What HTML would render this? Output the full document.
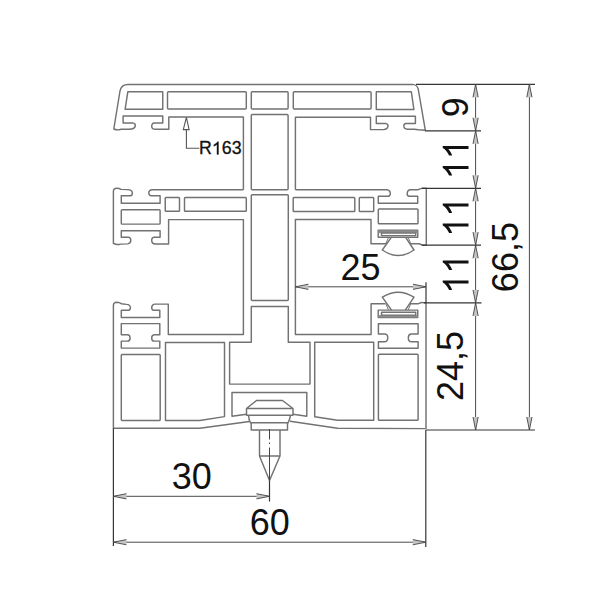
<!DOCTYPE html>
<html><head><meta charset="utf-8">
<style>
html,body{margin:0;padding:0;background:#fff;width:600px;height:600px;overflow:hidden}
svg{display:block}
.p{fill:none;stroke:#727272;stroke-width:1.45;stroke-linejoin:round}
.d{fill:none;stroke:#3c3c3c;stroke-width:1}
.t{font-family:"Liberation Sans",sans-serif;fill:#111}
</style></head>
<body>
<svg width="600" height="600" viewBox="0 0 600 600">
<g>
<g class="p">
<!-- TOP MEMBER outer -->
<path d="M243.4 189.7 L243.4 117 L168.8 117 L168.8 129.3 L155.2 129.3 Q151.6 129.1 151.7 126 Q151.9 122.9 154.2 122.9 L162.75 122.9 L162.75 115.9 L123.1 115.9 L123.1 122.9 L132.8 122.9 Q135.4 123.3 135.3 125.6 Q135 129.3 129 129.3 L121 129.3 Q117.5 130.6 113.8 129 L120 91 Q121.2 84.4 128 84.4 L412.5 84.4 Q417 84.6 418.2 89 L425.3 130.2 L418.5 129.7 Q416 129 413 129.2 L407.4 129.2 Q403.7 128.8 403.8 125.8 Q404 123.4 406 123.4 L415.4 123.4 L415.4 116.2 L376.3 116.2 L376.3 123.4 L385.5 123.4 Q388.3 124 388 126.2 Q387.5 129.6 383.5 129.6 L370.5 129.6 L370.5 117.2 L295.4 117.2 L295.4 189.7"/>
<!-- top inner rects -->
<path d="M127.8 91.8 L162.75 91.8 L162.75 109.3 L125.1 109.3 Z"/>
<rect x="167.5" y="91.8" width="78.8" height="17.2" rx="1"/>
<rect x="251.3" y="91.8" width="36.8" height="17.2" rx="1"/>
<rect x="293.3" y="91.8" width="77.8" height="17.2" rx="1"/>
<path d="M376.3 91.7 L411.3 91.7 L413.9 109.5 L376.3 109.5 Z"/>
<!-- mullion cavities -->
<rect x="251.3" y="114.4" width="36.8" height="75.35" rx="1"/>
<rect x="251.3" y="194.8" width="37" height="105.7" rx="1"/>
<path d="M251.3 306.4 L288.3 306.4 L288.3 342.3 L310 342.3 L310 384.1 L229.6 384.1 L229.6 342.3 L251.3 342.3 Z"/>
<!-- middle bars -->
<rect x="165.25" y="197.5" width="14.25" height="13.8" rx="0.8"/>
<rect x="184.5" y="197.5" width="61.8" height="13.8" rx="0.8"/>
<rect x="293.2" y="197.55" width="61.6" height="13.95" rx="0.8"/>
<rect x="359.3" y="197.55" width="14.4" height="13.95" rx="0.8"/>
<!-- MIDDLE LEFT outline -->
<path d="M243.4 189.7 L152.5 189.7 Q148.7 190 148.8 193 Q149 195.75 151.2 195.75 L160.1 195.75 L160.1 203.3 L121.3 203.3 L121.3 195.75 L130.5 195.75 Q132.5 195.4 132.4 192.9 Q132 189.8 127.7 189.6 L121 189.4 Q119 188.1 116.7 188.2 Q113.6 188.4 113.4 191 L113.4 243.4 Q117 245.3 120.5 244.1 L127.6 243.9 Q130.8 243.3 130.8 240.2 Q130.6 237.2 128.5 237.2 L121.3 237.2 L121.3 230.75 L160.1 230.75 L160.1 237.2 L153.6 237.2 Q151.5 237.8 151.7 240.6 Q152 243.9 155.2 243.9 L168.6 243.9 L168.6 219.6 L243.4 219.6 L243.4 334.4 L168.3 334.4 L168.3 304.1 L154.6 304.1 Q151.5 304.9 151.7 307.8 Q152 310.2 153.6 310.2 L159.8 310.2 L159.8 317.4 L121.3 317.4 L121.3 310.2 L128.5 310.3 Q130.4 310.1 130.4 307.8 Q130.3 304.6 126.7 304.4 L121.3 303.7 Q119.3 302.3 117 302.3 Q113.6 302.4 113.4 305 L113.4 428.3 L199.75 428.3 L249.5 421.5"/>
<rect x="121.3" y="209.75" width="38.8" height="14.35" rx="0.8"/>
<!-- MIDDLE RIGHT outline -->
<path d="M295.4 189.7 L386.8 189.7 Q390.5 190 390.3 193.8 Q390 196.3 388 196.3 L378.3 196.3 L378.3 203.3 L417.7 203.3 L417.7 196.3 L409.2 196.3 Q407 196 407.2 193.5 Q407.5 189.7 410.5 189.7 L418.3 189.7 Q420.5 188.4 423 188.3 L426.3 188.3 L426.3 245.3 L423 245.3 Q420.5 244 418.5 243.7 L410.3 243.7"/>
<path d="M386.3 243.7 L371 243.7 L371 219.5 L295.4 219.5 L295.4 334.4 L371.1 334.4 L371.1 303.7 L385.4 303.7"/>
<path d="M410 303.7 L418.5 303.7 Q421 302.5 423 302.6 L426 302.7 L426 428.6 L337.5 428.3 L290 421.3"/>
<rect x="378.3" y="209" width="39.7" height="14.7" rx="0.8"/>
<!-- gaskets -->
<rect x="378.2" y="230.3" width="39.55" height="6.95"/>
<rect x="378.2" y="230.3" width="39.55" height="2.8" fill="#8a8a8a" stroke="none"/>
<rect x="381.5" y="233.1" width="34.2" height="2.5" fill="#fff"/>
<path d="M391.5 237.2 L382.3 250 Q398.2 261.2 414 250 L405.5 237.2"/>
<path d="M385.7 243.9 L388.6 237.3 M410.7 243.9 L408.2 237.3" stroke-width="1"/>
<rect x="378.2" y="310.1" width="39.55" height="7.5"/>
<rect x="378.2" y="315.1" width="39.55" height="2.5" fill="#8a8a8a" stroke="none"/>
<rect x="381.5" y="312.2" width="34.2" height="2.9" fill="#fff"/>
<path d="M391.5 310.1 L382.3 297.2 Q398.2 287.2 414 297.2 L405.3 310.1"/>
<path d="M385.7 303.5 L388.6 310.1 M410.7 303.5 L408.2 310.1" stroke-width="1"/>
<!-- lower left cavities -->
<path d="M121.3 323.6 L159.8 323.6 L159.8 334.7 L154.2 334.7 Q151.7 335 151.7 337.9 Q151.7 341.1 154.2 341.1 L159.8 341.1 L159.8 348.1 L121.3 348.1 L121.3 341.1 L127.3 341.1 Q130.1 341 130.1 337.9 Q130.1 334.7 127.3 334.7 L121.3 334.7 Z"/>
<rect x="121.3" y="354.5" width="38.9" height="65.9" rx="0.8"/>
<path d="M165.5 342.4 L224.5 342.4 L224.5 416.6 L199.75 420.45 L165.5 420.45 Z"/>
<!-- lower right cavities -->
<path d="M378.4 323.7 L418.1 323.7 L418.1 334 L411 334 Q408.3 334.3 408.3 337.85 Q408.3 341.7 411 341.7 L418.1 341.7 L418.1 348.2 L378.4 348.2 L378.4 341.7 L385 341.7 Q387.75 341.5 387.75 337.85 Q387.75 334.2 385 334 L378.4 334 Z"/>
<rect x="378.4" y="354.2" width="39.7" height="66" rx="0.8"/>
<path d="M314.7 342.3 L373.7 342.3 L373.7 420.2 L337.5 420.2 L314.7 416.8 Z"/>
<!-- nail slot -->
<path d="M246.5 414.2 L232 416.2 L232 392.5 L306.8 392.5 L306.8 416.2 L293 414.2"/>
<!-- nail -->
<path d="M256.5 400.5 L282.5 400.5 L293 408.5 L293 415.2 L246.5 415.2 L246.5 408.5 Z M246.5 408.5 L293 408.5"/>
<path d="M248.5 415.2 Q248.8 420 250.5 422.8 L288 422.8 Q289.8 420 290.5 415.2"/>
<path d="M251.2 422.8 L251.2 430 L287.5 430 L287.5 422.8"/>
<path d="M259.5 430 L259.5 456 L280 456 L280 430 M259.5 456 L269.5 480.5 L280 456"/>
</g>
<g class="d">
<!-- R163 leader -->
<path d="M186.4 117.3 L183.3 129.6 L189.1 129.6 Z M186.4 129.6 L186.4 148.25 L199.3 148.25" stroke="#555" stroke-width="1.1"/>
<!-- extension lines -->
<path stroke="#353535" stroke-width="1.2" d="M416 84.3 L535 84.3 M425 130.8 L481 130.8 M421.8 188.3 L481 188.3 M421.8 245.2 L481 245.2 M423.7 302.9 L481.5 302.9 M426 430 L535 430 M426 282.2 L426 303 M113.4 428.3 L113.4 546 M425.8 430 L425.8 547 M269.5 480.5 L269.5 501.5"/>
<!-- dim lines -->
<path stroke="#4a4a4a" stroke-width="1" d="M475.6 84.3 L475.6 430 M529.4 84.3 L529.4 430 M295.4 286.8 L426 286.8 M113.4 496.3 L269.5 496.3 M113.4 542.2 L425.8 542.2"/>
<path fill="#c4c4c4" stroke="#444" stroke-width="0.9" d="M473.00 97.30 L475.60 84.30 L478.20 97.30 M478.20 117.80 L475.60 130.80 L473.00 117.80 M473.00 143.80 L475.60 130.80 L478.20 143.80 M478.20 175.30 L475.60 188.30 L473.00 175.30 M473.00 201.30 L475.60 188.30 L478.20 201.30 M478.20 232.20 L475.60 245.20 L473.00 232.20 M473.00 258.20 L475.60 245.20 L478.20 258.20 M478.20 289.90 L475.60 302.90 L473.00 289.90 M473.00 315.90 L475.60 302.90 L478.20 315.90 M478.20 417.00 L475.60 430.00 L473.00 417.00 M526.80 97.30 L529.40 84.30 L532.00 97.30 M532.00 417.00 L529.40 430.00 L526.80 417.00 M308.40 289.40 L295.40 286.80 L308.40 284.20 M413.00 284.20 L426.00 286.80 L413.00 289.40 M126.40 498.90 L113.40 496.30 L126.40 493.70 M256.50 493.70 L269.50 496.30 L256.50 498.90 M126.40 544.80 L113.40 542.20 L126.40 539.60 M412.80 539.60 L425.80 542.20 L412.80 544.80"/>
</g>
<!-- center dash line -->
<path d="M269.5 429 L269.5 439.5 M269.5 442.5 L269.5 444 M269.5 447.5 L269.5 480" stroke="#444" stroke-width="1" fill="none"/>
<!-- texts -->
<defs><path id="one" d="M763 0 L583 0 L583 1147 C540 1106 483 1064 413 1023 C343 982 280 951 223 930 L223 1104 C323 1151 410 1208 485 1275 C560 1342 613 1406 644 1466 L763 1466 Z"/></defs>
<g class="t">
<text x="199.04" y="154.4" font-size="17.8" stroke="#111" stroke-width="0.3">R</text>
<use href="#one" transform="translate(211.89 154.40) scale(0.008691 -0.008691)" stroke="#111" stroke-width="34"/>
<text x="221.79" y="154.4" font-size="17.8" stroke="#111" stroke-width="0.3">63</text>
<g font-size="36">
<text x="340.4" y="279.7">25</text>
<text x="171.73" y="488.95">30</text>
<text x="249.67" y="534.95">60</text>
<text transform="translate(468.05 117.35) rotate(-90)">9</text>
<g transform="translate(468.5 179.35) rotate(-90)"><use href="#one" transform="translate(0.00 0.00) scale(0.017578 -0.017578)"/><use href="#one" transform="translate(20.02 0.00) scale(0.017578 -0.017578)"/></g>
<g transform="translate(468.5 236.85) rotate(-90)"><use href="#one" transform="translate(0.00 0.00) scale(0.017578 -0.017578)"/><use href="#one" transform="translate(20.02 0.00) scale(0.017578 -0.017578)"/></g>
<g transform="translate(468.5 293.85) rotate(-90)"><use href="#one" transform="translate(0.00 0.00) scale(0.017578 -0.017578)"/><use href="#one" transform="translate(20.02 0.00) scale(0.017578 -0.017578)"/></g>
<text transform="translate(463.0 401.03) rotate(-90)">24,5</text>
<text transform="translate(517.5 292.14) rotate(-90)">66,5</text>
</g>
</g>
</g>
</svg>
</body></html>
